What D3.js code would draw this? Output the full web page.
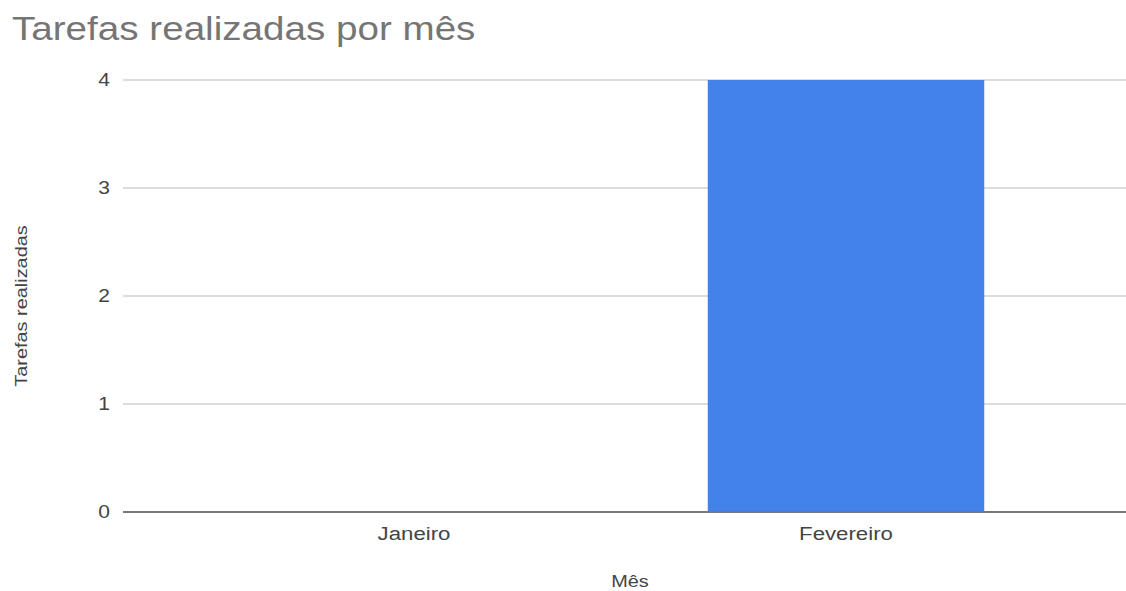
<html>
    <head>
        <script src="https://d3js.org/d3.v7.min.js"></script>
        <style>
            body { margin: 0; background: #fff; }
            text { font-family: "Liberation Sans", Arial, sans-serif; }
        </style>
    </head>
    <body>
        <svg id="chart" width="1126" height="591"></svg>
        <script>
            // data
            const months = ["Janeiro", "Fevereiro"];
            const tarefas = [0, 4];
            const yTicks = [0, 1, 2, 3, 4];

            let svg = d3.select("svg#chart");
            const sx = 1.17; // the picture's text is a bit wider than normal

            let x = d3.scaleBand().domain(months).range([198, 1062])
                        .paddingInner(0.36).paddingOuter(0.18);
            let y = d3.scaleLinear().domain([0, 4]).range([512, 80]);

            // title
            svg.append("text")
                .attr("transform", `translate(12,40) scale(${sx},1)`)
                .style("font-size", "33px")
                .style("fill", "#757575")
                .text("Tarefas realizadas por mês");

            // gridlines
            svg.selectAll("line.grid").data(yTicks.filter(d => d > 0))
                .join("line")
                .attr("class", "grid")
                .attr("x1", 123).attr("x2", 1126)
                .attr("y1", d => y(d)).attr("y2", d => y(d))
                .style("stroke", "#d0d0d0")
                .style("stroke-width", 1.5);

            // y tick labels
            svg.selectAll("text.ytick").data(yTicks)
                .join("text")
                .attr("class", "ytick")
                .attr("transform", d => `translate(104,${y(d)}) scale(${sx},1)`)
                .attr("dy", "0.35em")
                .attr("text-anchor", "middle")
                .style("font-size", "18px")
                .style("fill", "#444")
                .text(d => d);

            // bars
            svg.selectAll("rect.bar").data(months)
                .join("rect")
                .attr("class", "bar")
                .attr("x", d => x(d))
                .attr("width", x.bandwidth())
                .attr("y", (d, i) => y(tarefas[i]))
                .attr("height", (d, i) => y(0) - y(tarefas[i]))
                .style("fill", "#4282ea");

            // baseline
            svg.append("line")
                .attr("x1", 123).attr("x2", 1126)
                .attr("y1", y(0)).attr("y2", y(0))
                .style("stroke", "#777")
                .style("stroke-width", 2);

            // x labels
            svg.selectAll("text.xtick").data(months)
                .join("text")
                .attr("class", "xtick")
                .attr("transform", d => `translate(${x(d) + x.bandwidth() / 2},540) scale(${sx},1)`)
                .attr("text-anchor", "middle")
                .style("font-size", "19px")
                .style("fill", "#444")
                .text(d => d);

            // axis titles
            svg.append("text")
                .attr("transform", `translate(630,587) scale(${sx},1)`)
                .attr("text-anchor", "middle")
                .style("font-size", "17px")
                .style("fill", "#444")
                .text("Mês");

            svg.append("text")
                .attr("transform", `translate(21,306) rotate(-90) scale(${sx},1)`)
                .attr("dy", "0.35em")
                .attr("text-anchor", "middle")
                .style("font-size", "17px")
                .style("fill", "#444")
                .text("Tarefas realizadas");
        </script>
    </body>
</html>
